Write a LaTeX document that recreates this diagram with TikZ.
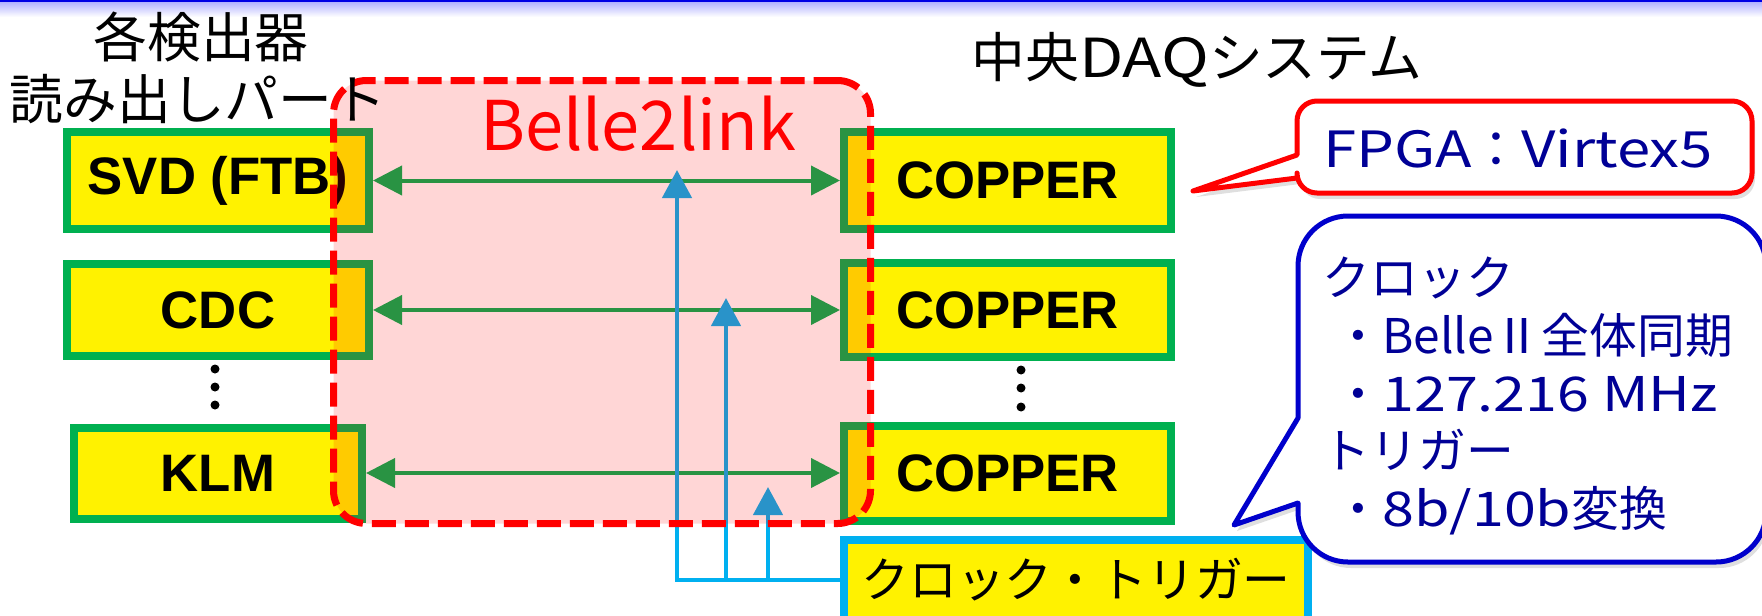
\documentclass[tikz,border=0pt]{standalone}
\usepackage{fontspec}
\setmainfont{Liberation Sans}
\newfontfamily\jpfont{Noto Sans CJK JP}
\newfontfamily\jpwide[FakeStretch=1.2]{Noto Sans CJK JP}
\usetikzlibrary{arrows.meta,shadows}
\definecolor{boxgreen}{RGB}{0,176,80}
\definecolor{clkcyan}{RGB}{0,176,240}
\definecolor{navytext}{RGB}{0,0,150}
\definecolor{callblue}{RGB}{0,0,204}
\tikzset{
  detbox/.style={draw=boxgreen, fill=yellow, line width=0.08cm, inner sep=0pt, font=\bfseries\fontsize{15}{18}\selectfont, drop shadow={shadow xshift=0.03cm, shadow yshift=-0.03cm, opacity=0.2}},
  jptitle/.style={font=\jpfont\fontsize{15.3}{18}\selectfont, inner sep=0pt},
  linkarrow/.style={boxgreen, line width=0.04cm, {Triangle[length=0.29cm,width=0.29cm]}-{Triangle[length=0.29cm,width=0.29cm]}},
  clkline/.style={clkcyan, line width=0.045cm},
  clkarrow/.style={clkline, -{Triangle[length=0.28cm,width=0.29cm]}},
  callshadow/.style={line join=round, drop shadow={shadow xshift=0.03cm, shadow yshift=-0.06cm, opacity=0.25}}
}
\begin{document}
\begin{tikzpicture}
\useasboundingbox (0,0) rectangle (17.62,-6.15);
\clip (0,0) rectangle (17.62,-6.15);
\fill[blue!90!black] (0,0) rectangle (17.62,-0.02);
\shade[top color=blue!30, bottom color=white] (0,-0.02) rectangle (17.62,-0.17);

\node[detbox, minimum width=3.02cm, minimum height=0.97cm] (svd) at (2.18,-1.805) {SVD (FTB)};
\node[detbox, minimum width=3.02cm, minimum height=0.92cm] (cdc) at (2.18,-3.10) {CDC};
\node[detbox, minimum width=2.88cm, minimum height=0.91cm] (klm) at (2.18,-4.73) {KLM};
\node[detbox, minimum width=3.27cm, minimum height=0.97cm] (cop1) at (10.075,-1.805) {COPPER};
\node[detbox, minimum width=3.27cm, minimum height=0.94cm] (cop2) at (10.075,-3.10) {COPPER};
\node[detbox, minimum width=3.27cm, minimum height=0.95cm] (cop3) at (10.075,-4.73) {COPPER};
\foreach \y in {3.69,3.87,4.05} \fill (2.15,-\y) circle (0.045);
\foreach \y in {3.70,3.88,4.07} \fill (10.21,-\y) circle (0.045);

\draw[linkarrow] (svd) -- (cop1);
\draw[linkarrow] (cdc) -- (cop2);
\draw[linkarrow] (klm) -- (cop3);

\node[draw=clkcyan, fill=yellow, line width=0.08cm, minimum width=4.64cm, minimum height=0.80cm, inner sep=0pt, font=\jpfont\fontsize{13.6}{16}\selectfont] (clock) at (10.76,-5.80) {クロック・トリガー};
\coordinate (tip1) at (6.77,-1.70);
\coordinate (tip2) at (7.26,-2.98);
\coordinate (tip3) at (7.68,-4.87);
\draw[clkarrow] (clock.west) -| (tip1);
\draw[clkarrow] (tip2 |- clock.west) -- (tip2);
\draw[clkarrow] (tip3 |- clock.west) -- (tip3);

\node[draw=red, fill=red, fill opacity=0.16, line width=0.07cm, dash pattern=on 0.24cm off 0.09cm, rounded corners=0.33cm, minimum width=5.37cm, minimum height=4.43cm] (link) at (6.02,-3.02) {};
\node[text=red, font=\jpfont\fontsize{19.5}{23}\selectfont] (linkname) at (6.38,-1.24) {Belle2link};

\node[jptitle] (dettitle) at (2.01,-0.37) {各検出器};
\node[jptitle] (readtitle) at (1.98,-0.99) {読み出しパート};
\node[jptitle] (daqtitle) at (11.97,-0.60) {中央{\jpwide DAQ}システム};

\coordinate (fpgatip) at (11.93,-1.91);
\draw[red, line width=0.05cm, fill=white, callshadow] (12.97,-1.55) -- (12.97,-1.21) arc[start angle=180, end angle=90, radius=0.2] -- (17.32,-1.01) arc[start angle=90, end angle=0, radius=0.2] -- (17.52,-1.73) arc[start angle=0, end angle=-90, radius=0.2] -- (13.17,-1.93) arc[start angle=270, end angle=180, radius=0.2] -- (12.97,-1.78) -- (fpgatip) -- cycle;
\node[text=navytext, font=\jpfont\fontsize{14.2}{17}\selectfont] (fpga) at (15.18,-1.48) {{\jpwide FPGA}：{\jpwide Virtex5}};

\coordinate (calltip) at (12.34,-5.25);
\draw[callblue, line width=0.05cm, fill=white, callshadow] (12.98,-4.18) -- (12.98,-2.66) arc[start angle=180, end angle=90, radius=0.5] -- (17.16,-2.16) arc[start angle=90, end angle=0, radius=0.5] -- (17.66,-5.12) arc[start angle=0, end angle=-90, radius=0.5] -- (13.48,-5.62) arc[start angle=270, end angle=180, radius=0.5] -- (12.98,-5.03) -- (calltip) -- cycle;
\node[anchor=west, align=left, inner sep=0pt, text=navytext, font=\jpfont\fontsize{13.6}{16.4}\selectfont] (clockinfo) at (13.22,-3.96) {クロック\\
\hspace*{0.25em}・BelleⅡ全体同期\\
\hspace*{0.25em}・{\jpwide 127.216 MHz}\\
トリガー\\
\hspace*{0.25em}・{\jpwide 8b/10b}変換};
\end{tikzpicture}
\end{document}
